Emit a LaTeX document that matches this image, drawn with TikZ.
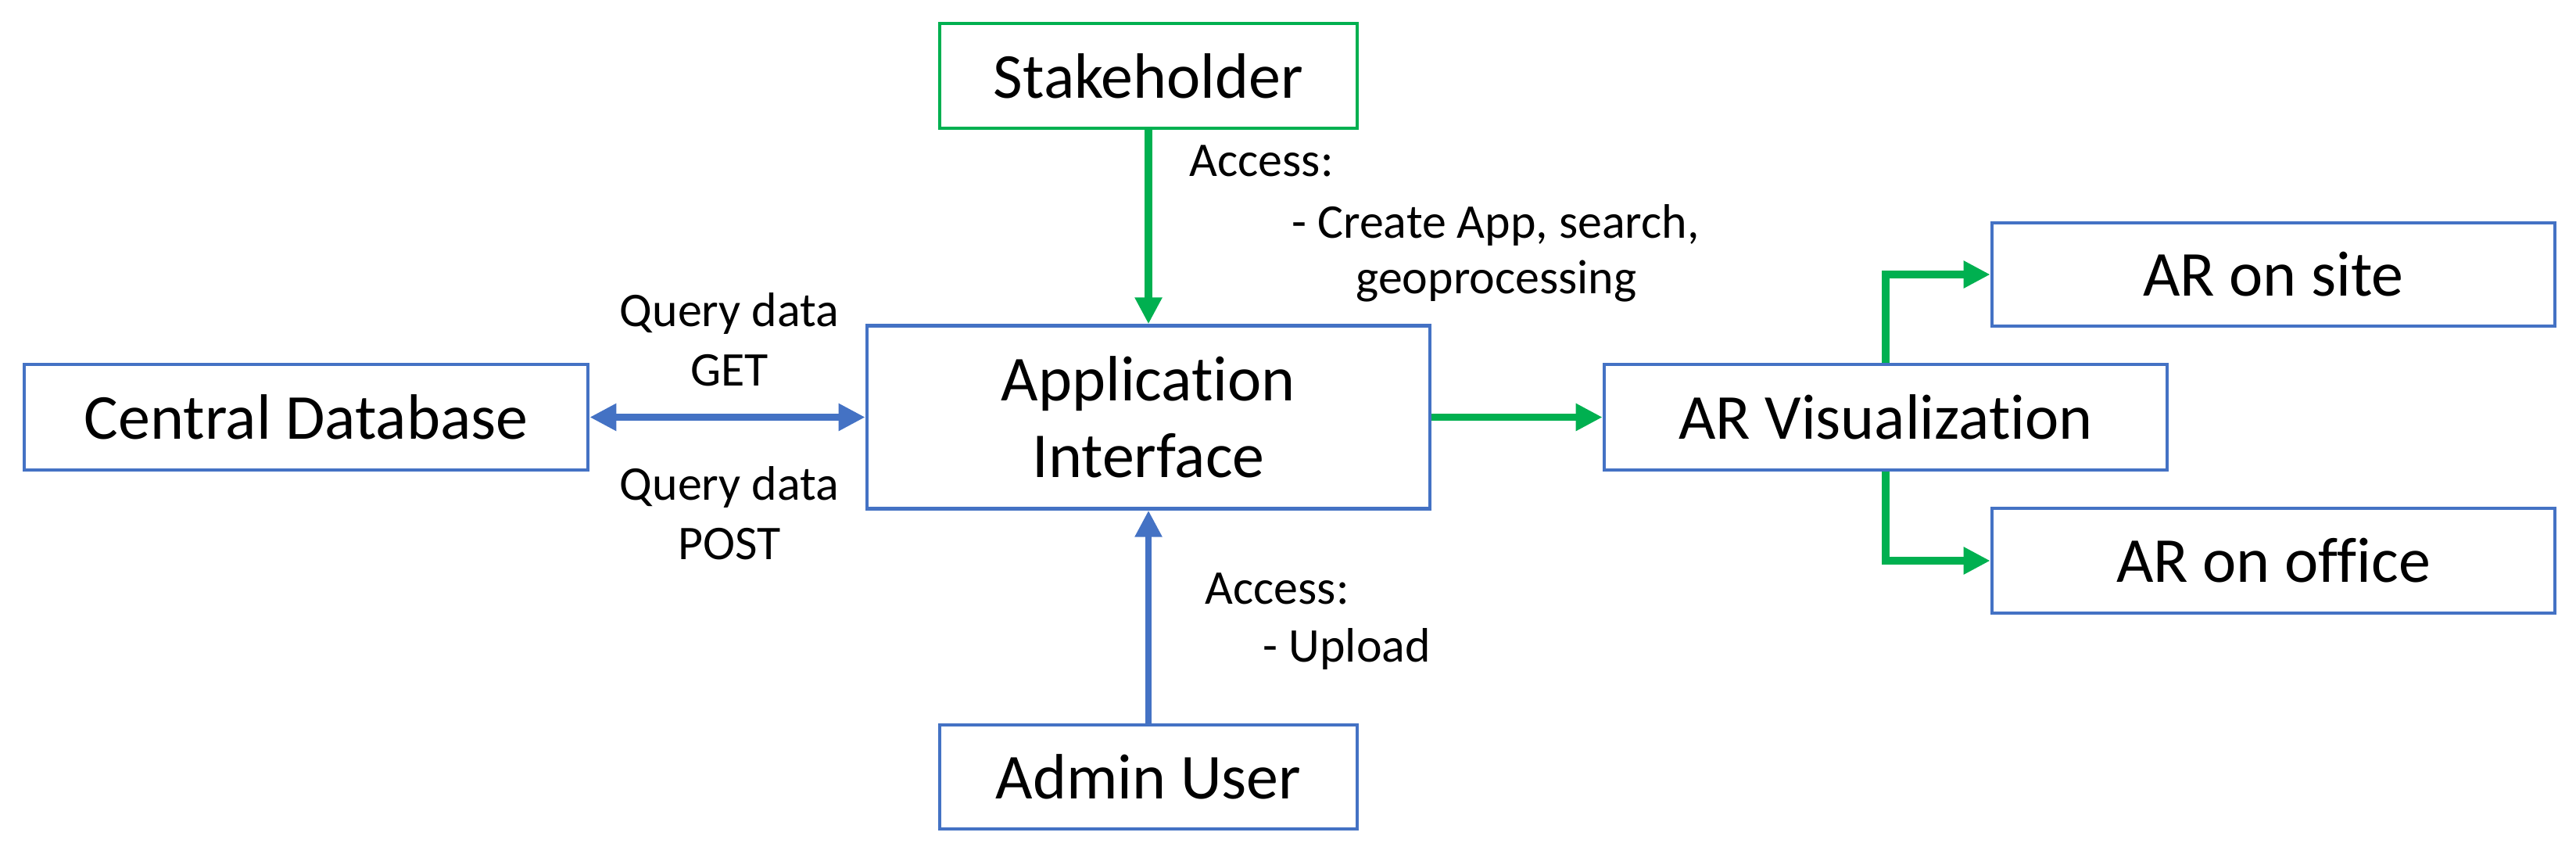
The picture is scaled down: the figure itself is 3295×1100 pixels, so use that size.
\documentclass[tikz,border=0pt]{standalone}
\usepackage{fontspec}
\setmainfont{Carlito}[Ligatures=NoCommon]
\usetikzlibrary{arrows.meta}
\definecolor{boxblue}{HTML}{4472C4}
\definecolor{boxgreen}{HTML}{00B050}
\begin{document}
\begin{tikzpicture}[x=0.01cm,y=-0.01cm,
  box/.style={draw=boxblue, line width=1.2pt, inner sep=0pt, align=center,
    font=\fontsize{23.3pt}{28pt}\selectfont},
  gbox/.style={box, draw=boxgreen},
  lbl/.style={font=\fontsize{17.6pt}{21pt}\selectfont, inner sep=0pt, anchor=base},
  fat/.tip={Triangle[length=0.34cm,width=0.33cm]},
  gconn/.style={draw=boxgreen, line width=2.6pt, -fat},
  bconn/.style={draw=boxblue, line width=2.4pt, -fat},
]
\useasboundingbox (0,0) rectangle (3295,1100);
% boxes
\node[gbox, minimum width=5.33cm, minimum height=1.34cm] (stake) at (1469,97) {Stakeholder};
\node[box, minimum width=7.21cm, minimum height=1.35cm] (db) at (391.5,533.5) {Central Database};
\node[box, minimum width=7.20cm, minimum height=2.34cm] (app) at (1469,533.5) {Application\\Interface};
\node[box, minimum width=5.34cm, minimum height=1.33cm] (admin) at (1469,993.5) {Admin User};
\node[box, minimum width=7.20cm, minimum height=1.35cm] (arvis) at (2412,533.5) {AR Visualization};
\node[box, minimum width=7.20cm, minimum height=1.32cm] (site) at (2908,351) {AR on site};
\node[box, minimum width=7.20cm, minimum height=1.34cm] (office) at (2908,717) {AR on office};
% connectors
\draw[gconn] (stake.south) -- (app.north);
\draw[bconn] (admin.north) -- (app.south);
\draw[bconn, fat-fat] (db.east) -- (app.west);
\draw[gconn] (app.east) -- (arvis.west);
\draw[gconn] (arvis.north) |- (site.west);
\draw[gconn] (arvis.south) |- (office.west);
% labels
\node[lbl] (q1) at (933,417) {Query data};
\node[lbl] (q1b) at (933,493) {GET};
\node[lbl] (q2) at (933,639) {Query data};
\node[lbl] (q2b) at (933,715) {POST};
\node[lbl, anchor=base west] (acc1) at (1521,225) {Access:};
\node[lbl] (acc1a) at (1913,304) {- Create App, search,};
\node[lbl] (acc1b) at (1914,375) {geoprocessing};
\node[lbl, anchor=base west] (acc2) at (1541,772) {Access:};
\node[lbl, anchor=base west] (acc2a) at (1615,846) {- Upload};
\end{tikzpicture}
\end{document}
